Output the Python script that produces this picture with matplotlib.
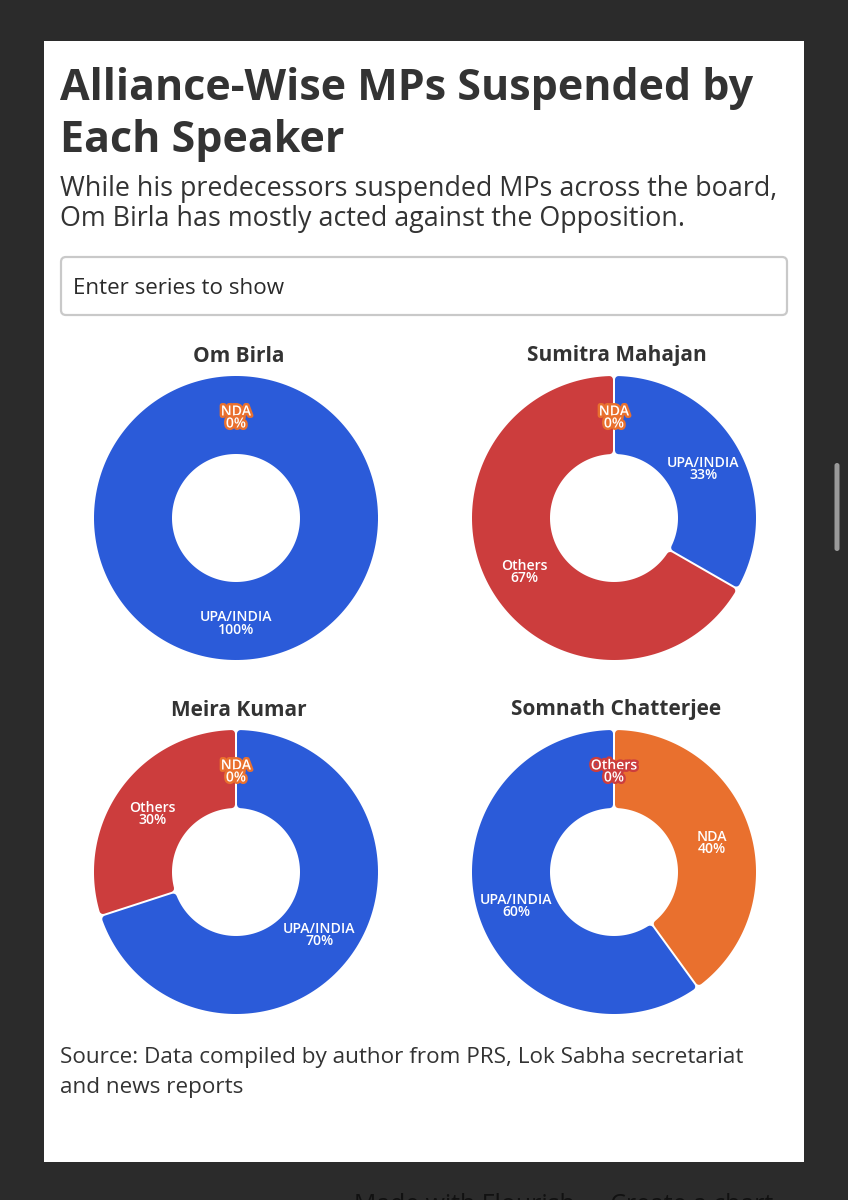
import numpy as np
import matplotlib
matplotlib.use("Agg")
import matplotlib.pyplot as plt
import matplotlib.patheffects as pe
from matplotlib.patches import Rectangle, FancyBboxPatch
from matplotlib.path import Path

# ---- data ----
speakers = ["Om Birla", "Sumitra Mahajan", "Meira Kumar", "Somnath Chatterjee"]
series_names = [
    ["UPA/INDIA", "NDA"],
    ["UPA/INDIA", "Others", "NDA"],
    ["UPA/INDIA", "Others", "NDA"],
    ["NDA", "UPA/INDIA", "Others"],
]
series_values = [
    [100, 0],
    [33.3, 66.7, 0],
    [70, 30, 0],
    [40, 60, 0],
]
value_labels = [
    ["100%", "0%"],
    ["33%", "67%", "0%"],
    ["70%", "30%", "0%"],
    ["40%", "60%", "0%"],
]
title_lines = ["Alliance-Wise MPs Suspended by", "Each Speaker"]
subtitle_lines = ["While his predecessors suspended MPs across the board,",
                  "Om Birla has mostly acted against the Opposition."]
source_lines = ["Source: Data compiled by author from PRS, Lok Sabha secretariat",
                "and news reports"]
search_text = "Enter series to show"
footer_text = "Made with Flourish  \u2022  Create a chart"

colors = {"UPA/INDIA": "#2B5BD9", "Others": "#CC3D3D", "NDA": "#E9702E"}
INK = "#333333"
W, H = 848, 1200
plt.rcParams["font.family"] = ["Open Sans", "DejaVu Sans"]

fig = plt.figure(figsize=(W / 100, H / 100), dpi=100, facecolor="#2B2B2B")
bg = fig.add_axes([0, 0, 1, 1])
bg.set_xlim(0, W)
bg.set_ylim(H, 0)
bg.axis("off")

bg.add_patch(Rectangle((44, 41), 760, 1121, fc="white", ec="none"))
bg.add_patch(FancyBboxPatch((61, 257), 726, 58, boxstyle="round,pad=0,rounding_size=5",
                            fc="white", ec="#C9C9C9", lw=1.6))
bg.add_patch(FancyBboxPatch((834.5, 463), 5, 88, boxstyle="round,pad=0,rounding_size=2.5",
                            fc="#9A9A9A", ec="none"))

for y, s in zip([89, 141], title_lines):
    bg.text(60, y, s, fontsize=31.0, fontweight="bold", color=INK, va="center", ha="left")
for y, s in zip([189, 219], subtitle_lines):
    bg.text(60, y, s, fontsize=19.4, color=INK, va="center", ha="left")
bg.text(73, 288, search_text, fontsize=16.1, color="#2A2A2A", va="center", ha="left")
for y, s in zip([1057, 1087], source_lines):
    bg.text(60, y, s, fontsize=16.2, color=INK, va="center", ha="left")
bg.text(354, 1206, footer_text, fontsize=17.9, color="#111111", va="center", ha="left")

OUTER, INNER = 142.0, 64.0
CORNER = 3.5
GAP = 1.0
centers = [(236, 518), (614, 518), (236, 872), (614, 872)]
head_x = [238.5, 616.5, 238.5, 616.5]
head_y = [356, 356, 710, 710]


def ring_path(theta1, theta2, ro, ri, off):
    """Ring sector with radial edges kept a constant distance off the boundary."""
    full = theta2 - theta1 >= 359.9
    if full:
        a = np.radians(np.linspace(0, 360, 240))
        outer = np.c_[ro * np.cos(a), ro * np.sin(a)]
        inner = np.c_[ri * np.cos(a[::-1]), ri * np.sin(a[::-1])]
    else:
        oo = np.degrees(np.arcsin(off / ro))
        oi = np.degrees(np.arcsin(off / ri))
        ao = np.radians(np.linspace(theta1 + oo, theta2 - oo, 160))
        ai = np.radians(np.linspace(theta2 - oi, theta1 + oi, 100))
        outer = np.c_[ro * np.cos(ao), ro * np.sin(ao)]
        inner = np.c_[ri * np.cos(ai), ri * np.sin(ai)]
    pts = np.vstack([outer, inner, outer[:1]])
    codes = [Path.MOVETO] + [Path.LINETO] * (len(pts) - 2) + [Path.CLOSEPOLY]
    return Path(pts, codes)


for k, (cx, cy) in enumerate(centers):
    bg.text(head_x[k], head_y[k], speakers[k], fontsize=15,
            fontweight="bold", color=INK, ha="center", va="center")
    ax = fig.add_axes([(cx - OUTER) / W, 1 - (cy + OUTER) / H, 2 * OUTER / W, 2 * OUTER / H])
    names, vals, labs = series_names[k], series_values[k], value_labels[k]
    wedges, _ = ax.pie(vals, colors=[colors[n] for n in names], startangle=90,
                       counterclock=False, radius=OUTER, normalize=True,
                       wedgeprops=dict(width=OUTER - INNER))
    ax.set_xlim(-OUTER, OUTER)
    ax.set_ylim(-OUTER, OUTER)
    # round the sector corners: inset path plus a round-joined stroke of the same colour
    for w, n in zip(wedges, names):
        if w.theta2 - w.theta1 < 1e-6:
            w.set_visible(False)
            continue
        w._path = ring_path(w.theta1, w.theta2, OUTER - CORNER, INNER + CORNER, CORNER + GAP)
        w.set_edgecolor(colors[n])
        w.set_linewidth(2 * CORNER * 0.72)
        w.set_joinstyle("round")
    total = sum(vals)
    start = 0.0
    for n, v, lab in zip(names, vals, labs):
        mid = np.radians(start + v / total * 180.0)
        start += v / total * 360.0
        if v == 0:
            mid = 0.0
        r = 103.0
        lx, ly = cx + r * np.sin(mid), cy - r * np.cos(mid)
        effects = []
        if v == 0:
            effects = [pe.withStroke(linewidth=3.5, foreground=colors[n])]
        ax.text(lx - cx, cy - (ly + 2.5), n + "\n" + lab, fontsize=10.1, color="white",
                ha="center", va="center", ma="center", linespacing=0.82, zorder=10,
                fontweight="semibold", path_effects=effects, clip_on=False)

fig.savefig("out.png", dpi=100, facecolor=fig.get_facecolor())
